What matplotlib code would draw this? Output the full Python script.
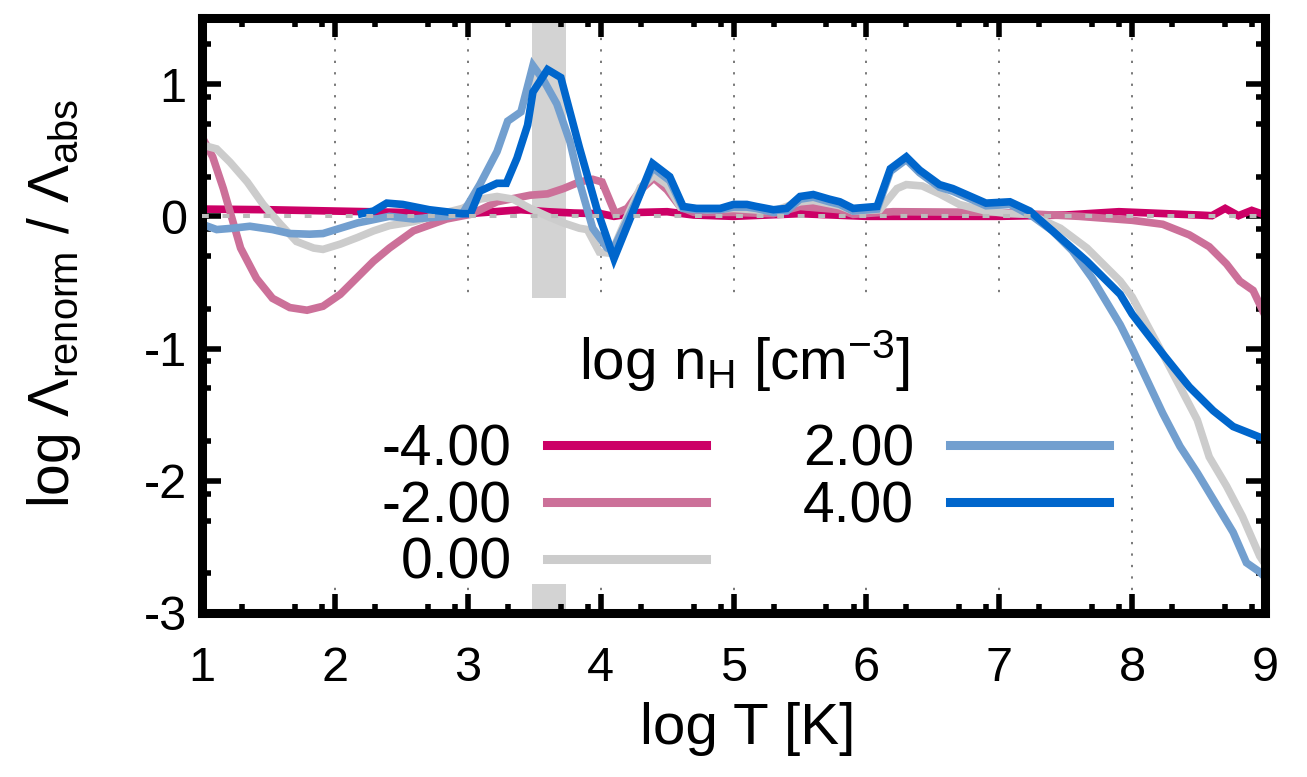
import numpy as np
import matplotlib
matplotlib.use('Agg')
import matplotlib.pyplot as plt
from matplotlib.patches import Rectangle

plt.rcParams['font.family'] = ['Liberation Sans', 'DejaVu Sans']
plt.rcParams['mathtext.fontset'] = 'custom'
plt.rcParams['mathtext.rm'] = 'Liberation Sans'
plt.rcParams['mathtext.it'] = 'Liberation Sans:italic'
plt.rcParams['axes.unicode_minus'] = False

# log T [K] and log(Lambda_renorm / Lambda_abs) for each density
logT_m4 = [1.0, 1.5, 2.0, 2.5, 3.0, 3.2, 3.4, 3.6, 3.8, 4.0, 4.1, 4.3, 4.5, 4.7,
           5.0, 5.5, 6.0, 6.5, 7.0, 7.5, 7.9, 8.5, 8.6, 8.7, 8.8, 8.9, 9.0]
lam_m4 = [0.055, 0.05, 0.04, 0.03, 0.02, 0.035, 0.05, 0.035, 0.025, 0.02, 0.0, 0.03,
          0.035, 0.01, 0.0, 0.02, 0.0, 0.0, 0.0, 0.01, 0.035, 0.01, 0.005, 0.06,
          0.005, 0.045, 0.01]

logT_m2 = [1.0, 1.08, 1.16, 1.29, 1.41, 1.53, 1.66, 1.79, 1.91, 2.04, 2.17, 2.29,
           2.41, 2.59, 2.84, 3.02, 3.22, 3.47, 3.60, 3.72, 3.84, 3.94, 4.01, 4.11,
           4.2, 4.3, 4.4, 4.5, 4.6, 4.7, 5.0, 5.3, 5.5, 5.8, 5.9, 6.2, 7.0, 7.6,
           8.0, 8.23, 8.43, 8.58, 8.71, 8.81, 8.91, 9.0]
lam_m2 = [0.60, 0.45, 0.21, -0.24, -0.47, -0.62, -0.69, -0.71, -0.68, -0.59, -0.46,
          -0.34, -0.24, -0.11, -0.02, 0.015, 0.11, 0.16, 0.17, 0.21, 0.26, 0.28,
          0.26, 0.02, 0.06, 0.20, 0.29, 0.20, 0.07, 0.03, 0.03, 0.02, 0.075, 0.05,
          0.015, 0.035, 0.03, 0.0, -0.03, -0.06, -0.14, -0.23, -0.36, -0.49, -0.56,
          -0.75]

logT_0 = [1.0, 1.11, 1.21, 1.34, 1.46, 1.59, 1.71, 1.84, 1.91, 2.04, 2.17, 2.29,
          2.41, 2.59, 2.84, 2.96, 3.09, 3.22, 3.34, 3.47, 3.60, 3.72, 3.84, 3.90,
          3.99, 4.08, 4.2, 4.3, 4.4, 4.5, 4.6, 4.8, 5.0, 5.3, 5.5, 5.6, 5.8, 5.9,
          6.1, 6.23, 6.3, 6.42, 6.55, 6.7, 6.9, 7.08, 7.23, 7.46, 7.66, 7.91, 8.0,
          8.23, 8.36, 8.49, 8.58, 8.71, 8.83, 8.96, 9.0]
lam_0 = [0.54, 0.51, 0.41, 0.26, 0.09, -0.06, -0.19, -0.24, -0.25, -0.21, -0.16,
         -0.11, -0.07, -0.04, 0.03, 0.06, 0.13, 0.15, 0.13, 0.06, 0.0, -0.05, -0.09,
         -0.10, -0.27, -0.28, 0.0, 0.22, 0.31, 0.24, 0.07, 0.05, 0.06, 0.04, 0.11,
         0.12, 0.08, 0.04, 0.05, 0.21, 0.24, 0.23, 0.17, 0.09, 0.04, 0.02, 0.015,
         -0.09, -0.24, -0.49, -0.61, -1.04, -1.29, -1.54, -1.82, -2.04, -2.27,
         -2.57, -2.63]

logT_p2 = [1.0, 1.11, 1.23, 1.36, 1.53, 1.66, 1.81, 1.91, 2.04, 2.17, 2.29, 2.41,
           2.59, 2.84, 2.96, 3.09, 3.22, 3.30, 3.40, 3.49, 3.57, 3.67, 3.77, 3.84,
           3.94, 4.05, 4.09, 4.39, 4.52, 4.62, 4.72, 4.9, 5.0, 5.1, 5.17, 5.3, 5.4,
           5.5, 5.6, 5.72, 5.8, 5.9, 6.08, 6.18, 6.3, 6.4, 6.55, 6.65, 6.9, 7.08,
           7.25, 7.40, 7.55, 7.70, 7.85, 7.91, 8.0, 8.23, 8.36, 8.49, 8.61, 8.76,
           8.86, 8.96, 9.0]
lam_p2 = [-0.06, -0.10, -0.09, -0.075, -0.10, -0.13, -0.135, -0.13, -0.09, -0.05,
          -0.025, 0.0, -0.02, 0.0, 0.02, 0.24, 0.49, 0.72, 0.79, 1.14, 1.03, 0.85,
          0.56, 0.26, -0.09, -0.24, -0.26, 0.37, 0.27, 0.06, 0.05, 0.05, 0.07, 0.07,
          0.06, 0.03, 0.04, 0.13, 0.145, 0.11, 0.09, 0.04, 0.055, 0.34, 0.43, 0.33,
          0.22, 0.19, 0.08, 0.09, 0.0, -0.11, -0.26, -0.47, -0.72, -0.82, -1.0,
          -1.49, -1.74, -1.94, -2.14, -2.39, -2.62, -2.69, -2.73]

logT_p4 = [2.20, 2.29, 2.39, 2.51, 2.71, 2.96, 3.02, 3.09, 3.22, 3.29, 3.37, 3.45,
           3.49, 3.60, 3.70, 3.84, 3.97, 4.10, 4.39, 4.52, 4.62, 4.72, 4.9, 5.0,
           5.1, 5.17, 5.3, 5.4, 5.5, 5.6, 5.72, 5.8, 5.9, 6.08, 6.18, 6.3, 6.4,
           6.55, 6.65, 6.9, 7.08, 7.23, 7.40, 7.66, 7.91, 8.0, 8.23, 8.43, 8.61,
           8.76, 8.96, 9.0]
lam_p4 = [0.02, 0.04, 0.10, 0.09, 0.05, 0.02, 0.02, 0.19, 0.25, 0.25, 0.44, 0.69,
          0.94, 1.11, 1.05, 0.52, 0.06, -0.32, 0.40, 0.30, 0.075, 0.06, 0.06, 0.09,
          0.09, 0.075, 0.05, 0.06, 0.15, 0.165, 0.13, 0.11, 0.06, 0.075, 0.36, 0.45,
          0.35, 0.24, 0.21, 0.10, 0.11, 0.04, -0.11, -0.34, -0.59, -0.74, -1.04,
          -1.29, -1.47, -1.59, -1.67, -1.68]

densities = ['-4.00', '-2.00', '0.00', '2.00', '4.00']
series = [(logT_m4, lam_m4), (logT_m2, lam_m2), (logT_0, lam_0),
          (logT_p2, lam_p2), (logT_p4, lam_p4)]
colors = ['#CC0066', '#CC7099', '#CCCCCC', '#729FCF', '#0066CC']

# shaded temperature window
band = (3.48, 3.74)

fig = plt.figure(figsize=(13.07, 7.77), dpi=100)
ax = fig.add_axes([0.1546, 0.2111, 0.8133, 0.7657])

ax.axvspan(*band, color='#D3D3D3', lw=0, zorder=0.5)
ax.grid(axis='x', which='major', color='#555555', lw=1.1, ls=(0, (1.5, 6)), zorder=0.6)
ax.set_axisbelow(True)

# white backing for the key
ax.add_patch(Rectangle((0.116, 0.049), 0.748, 0.48, transform=ax.transAxes,
                       fc='white', ec='none', zorder=1))

lines = []
for (xs, ys), c, lab in zip(series, colors, densities):
    ln, = ax.plot(xs, ys, color=c, lw=5.5, solid_joinstyle='miter', label=lab, zorder=2)
    lines.append(ln)

ax.axhline(0, color='#BBBBBB', lw=2.9, ls=(0, (1.7, 3.4)), zorder=5)

ax.set_xlim(1, 9)
ax.set_ylim(-3, 1.5)
ax.set_xticks(range(1, 10))
ax.set_yticks(range(-3, 2))
sub = np.log10([2, 5, 8])
ax.set_xticks([k + s for k in range(1, 9) for s in sub], minor=True)
ax.set_yticks([k + s for k in range(-3, 2) for s in sub if k + s < 1.5], minor=True)
ax.tick_params(which='both', direction='in', top=True, right=True, width=4)
ax.tick_params(which='major', length=13.5)
ax.tick_params(which='minor', length=6.5)
ax.tick_params(axis='x', labelsize=35, pad=24)
ax.tick_params(axis='y', labelsize=35, pad=11)
for sp in ax.spines.values():
    sp.set_linewidth(6.5)

ax.set_xlabel('log T [K]', fontsize=42)
ax.set_ylabel(r'log Λ$_\mathrm{renorm}$ / Λ$_\mathrm{abs}$', fontsize=41)
ax.xaxis.set_label_coords(0.513, -0.15)
ax.yaxis.set_label_coords(-0.112, 0.52)

# key: heading above, entries right-aligned against their line samples
ax.text(0.51, 0.392, r'log n$_\mathrm{H}$ [cm$^{-3}$]', transform=ax.transAxes,
        fontsize=42, ha='center', va='baseline', zorder=20)
leg = ax.legend(lines, densities, ncol=2, markerfirst=False, loc='center',
                bbox_to_anchor=(0.511, 0.178), frameon=False, fontsize=41,
                handlelength=2.8, handletextpad=0.62, columnspacing=1.7,
                labelspacing=0.05, borderpad=0)
for h in leg.get_lines():
    h.set_linewidth(6.5)
leg.set_zorder(20)

fig.savefig('out.png', dpi=100)
